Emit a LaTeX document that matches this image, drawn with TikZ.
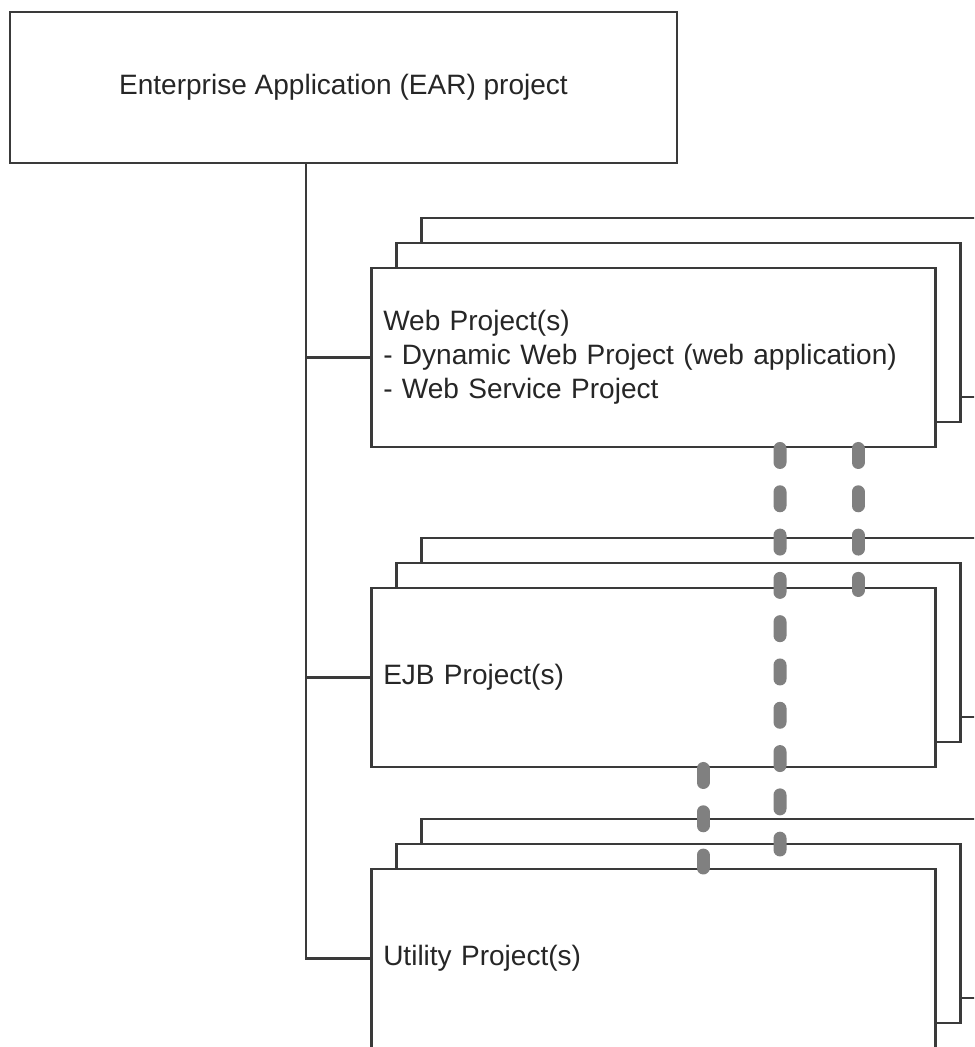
\documentclass[tikz,border=0pt]{standalone}
\usepackage{fontspec}
\setmainfont{Liberation Sans}
\usepackage{tikz}
\usetikzlibrary{calc}

\definecolor{boxline}{HTML}{3A3A3A}
\definecolor{usegray}{HTML}{808080}

\begin{document}
\begin{tikzpicture}[
		project/.style = {draw = boxline, line width = 0.05cm, fill = white, anchor = north west,
			minimum width = 11.28cm, minimum height = 3.58cm, inner xsep = 0.24cm,
			text width = 10.8cm, align = left},
		usage/.style = {draw = usegray, line width = 0.26cm, line cap = round,
			dash pattern = on 0.28cm off 0.586cm},
		font = \fontsize{15.95}{19.35}\selectfont, text = black!85
	]
		\useasboundingbox (0, 0) rectangle (19.48, 20.94);
		\clip (0, 0) rectangle (19.48, 20.94);
		
		\node [draw = boxline, line width = 0.05cm, minimum width = 13.34cm, minimum height = 3.02cm]
			(ear) at (6.87, 19.19) {Enterprise Application (EAR) project};
		
		% web
		\node [project] (web back) at (8.4, 16.6) {};
		\node [project] (web mid) at (7.9, 16.1) {};
		\node [project] (web) at (7.4, 15.6) {Web Project(s)\\- Dynamic Web Project (web application)\\- Web Service Project};
		
		% ejb
		\node [project] (ejb back) at (8.4, 10.2) {};
		\node [project] (ejb mid) at (7.9, 9.7) {};
		\node [project] (ejb) at (7.4, 9.2) {EJB Project(s)};
		
		% utility
		\node [project] (util back) at (8.4, 4.58) {};
		\node [project] (util mid) at (7.9, 4.08) {};
		\node [project] (util) at (7.4, 3.58) {Utility Project(s)};
		
		\coordinate (trunk top) at ($(ear.south west) + (5.94, 0)$);
		
		\draw [boxline, line width = 0.05cm] (trunk top) |- (util.west);
		\draw [boxline, line width = 0.05cm] (trunk top |- web.west) -- (web.west);
		\draw [boxline, line width = 0.05cm] (trunk top |- ejb.west) -- (ejb.west);
		
		\draw [usage] ($(web.south west) + (8.2, 0)$) -- ($(util mid.north west) + (7.7, -0.14)$);
		\draw [usage] ($(web.south west) + (9.76, 0)$) -- ($(ejb.north west) + (9.76, -0.07)$);
		\draw [usage] ($(ejb.south west) + (6.66, 0)$) -- ($(util.north west) + (6.66, 0)$);
	\end{tikzpicture}
\end{document}
